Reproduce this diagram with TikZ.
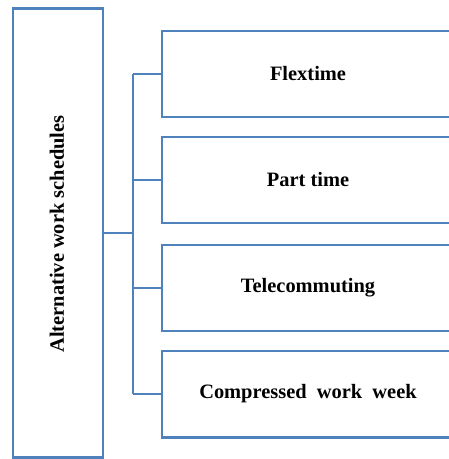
\documentclass[tikz,border=0pt]{standalone}
\usepackage{fontspec}
\setmainfont{Liberation Serif}
\usepackage{xcolor}
\usetikzlibrary{calc,shadows}
\definecolor{frame}{HTML}{4F81BD}
\definecolor{text}{HTML}{000000}
\tikzset{
  box/.style={draw=frame, line width=3pt, fill=white, line join=miter,
    drop shadow={opacity=0.25, shadow xshift=1pt, shadow yshift=-1pt},
    inner sep=0pt, text=text, font=\fontsize{20.5}{24}\selectfont\bfseries},
  item/.style={box, minimum width=292bp, minimum height=86bp},
  link/.style={draw=frame, line width=1.4pt},
}

\begin{document}
\begin{tikzpicture}[x=1bp,y=-1bp]
  \useasboundingbox (0,0) rectangle (449,459);
  \node[box, minimum width=90bp, minimum height=448bp] (main) at (58,233) {};
  \node[rotate=90, text=text, font=\fontsize{20.5}{24}\selectfont\bfseries] (title) at (57,234) {Alternative work schedules};
  \node[item] (flex) at (308,74) {Flextime};
  \node[item] (part) at (308,180) {Part time};
  \node[item] (tele) at (308,288) {Telecommuting};
  \node[item] (comp) at (308,394) {Compressed\ \ work\ \ week};
  \coordinate (top) at (133,74);
  \coordinate (bot) at (133,394);
  \draw[link] (top) -- (bot);
  \draw[link] (main.east) -- (main.east -| top);
  \foreach \b in {flex,part,tele,comp}
    \draw[link] (\b.west) -- (\b.west -| top);
\end{tikzpicture}
\end{document}
